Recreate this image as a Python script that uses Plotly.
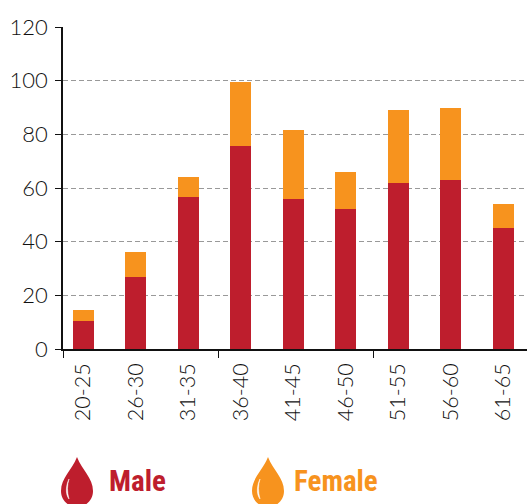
import plotly.graph_objects as go

age_groups = ["20-25", "26-30", "31-35", "36-40", "41-45", "46-50", "51-55", "56-60", "61-65"]
male = [10.5, 27, 56.5, 75.5, 56, 52, 62, 63, 45]
female = [4, 9, 7.5, 24, 25.5, 14, 27, 27, 9]
y_ticks = [0, 20, 40, 60, 80, 100, 120]
RED = "#BE1E2D"
ORANGE = "#F7931E"
W, H = 527, 504
positions = list(range(len(age_groups)))

def py(y):
    return (H - 155 - y) / (H - 155 - 27)

def fx(x):
    return (x - 63) / (W - 63)

def drop(cx, color):
    pts = lambda *a: " ".join(f"{fx(cx + dx):.5f},{py(y):.5f}" for dx, y in a)
    path = ("M" + pts((0, 457)) + " C" + pts((-5, 470), (-16, 478), (-16, 491)) +
            " C" + pts((-16, 500), (-9, 507), (0, 507)) +
            " C" + pts((9, 507), (16, 500), (16, 491)) +
            " C" + pts((16, 478), (5, 470), (0, 457)) + " Z")
    hl = ("M" + pts((-8, 479)) + " C" + pts((-11, 485), (-12, 494), (-8, 499)) +
          " C" + pts((-10, 492), (-10, 485), (-8, 479)) + " Z")
    return [
        dict(type="path", xref="paper", yref="paper", path=path, fillcolor=color, line=dict(width=0)),
        dict(type="path", xref="paper", yref="paper", path=hl, fillcolor="white",
             line=dict(color="white", width=0.5)),
    ]

fig = go.Figure()
fig.add_bar(x=positions, y=male, name="Male", marker=dict(color=RED, line=dict(width=0)), width=0.4)
fig.add_bar(x=positions, y=female, name="Female", marker=dict(color=ORANGE, line=dict(width=0)), width=0.4)

y_font = dict(family="Lato, Liberation Sans, sans-serif", size=22, color="#111111", weight=300)
x_font = dict(family="Lato, Liberation Sans, sans-serif", size=21.5, color="#111111", weight=300)
legend_font = "Liberation Sans Narrow, Roboto Condensed, Liberation Sans, sans-serif"

fig.update_layout(
    barmode="stack", width=W, height=H, showlegend=False,
    margin=dict(l=63, r=0, t=27, b=155, pad=0),
    paper_bgcolor="white", plot_bgcolor="white",
    xaxis=dict(
        range=[-0.39, 8.45], tickmode="array", tickvals=positions, ticktext=age_groups,
        tickangle=-90, ticks="", showgrid=False, zeroline=False, showline=True,
        linecolor="#111111", linewidth=1.5, tickfont=x_font, ticklabelstandoff=4,
        minor=dict(tickmode="array", tickvals=[-0.39, 2.57, 5.53], ticks="outside",
                   ticklen=7, tickwidth=1.2, tickcolor="#111111", showgrid=False),
    ),
    yaxis=dict(
        range=[0, 120], tickmode="array", tickvals=y_ticks, ticks="outside", ticklen=6,
        tickwidth=1.2, tickcolor="#111111", showline=True, linecolor="#111111", linewidth=1.5,
        showgrid=True, gridcolor="#999999", griddash="5px,3px", gridwidth=1, zeroline=False,
        tickfont=y_font, ticklabelstandoff=3,
    ),
    shapes=drop(77, RED) + drop(268, ORANGE),
    annotations=[
        dict(text="<b>Male</b>", xref="paper", yref="paper", x=fx(107), y=py(481), xanchor="left",
             yanchor="middle", showarrow=False, font=dict(family=legend_font, size=29, color=RED)),
        dict(text="<b>Female</b>", xref="paper", yref="paper", x=fx(292), y=py(481), xanchor="left",
             yanchor="middle", showarrow=False, font=dict(family=legend_font, size=29, color=ORANGE)),
    ],
)
fig.write_html("out.html", config={"displayModeBar": False},
               post_script="document.body.style.margin='0';document.documentElement.style.overflow='hidden';")
